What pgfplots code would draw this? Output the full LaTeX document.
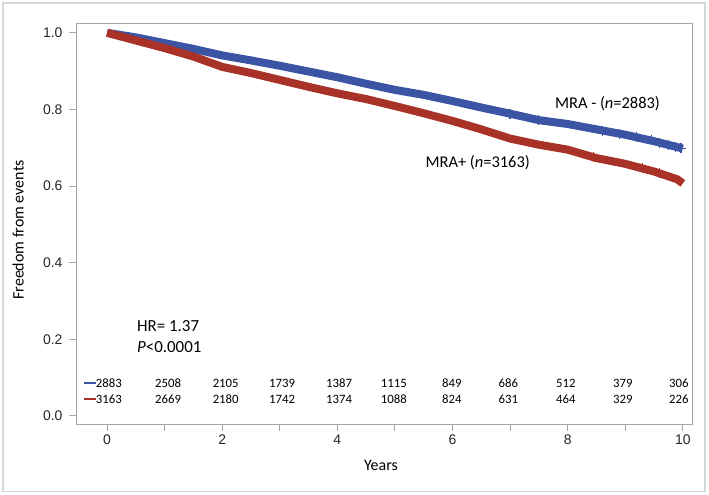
\documentclass[border=0pt]{standalone}
\usepackage{fontspec}
\setmainfont{Carlito}
\newfontfamily\arialf{Liberation Sans}
\usepackage{pgfplots}
\usepackage{pgfplotstable}
\pgfplotsset{compat=1.18}
\definecolor{kmblue}{RGB}{59,84,163}
\definecolor{kmred}{RGB}{168,50,40}
\definecolor{axgray}{RGB}{165,165,165}
\definecolor{framegray}{RGB}{215,215,215}

\pgfplotstableread{
t s
0 1.000
0.5 0.988
1 0.973
1.5 0.958
2 0.941
2.5 0.928
3 0.914
3.5 0.899
4 0.884
4.5 0.867
5 0.851
5.5 0.838
6 0.822
6.5 0.805
7 0.789
7.5 0.772
8 0.762
8.5 0.748
9 0.734
9.5 0.717
10 0.698
}\blue

\pgfplotstableread{
t s
0 1.000
0.5 0.980
1 0.960
1.5 0.938
2 0.911
2.5 0.895
3 0.877
3.5 0.859
4 0.842
4.5 0.827
5 0.809
5.5 0.790
6 0.770
6.5 0.748
7 0.724
7.5 0.708
8 0.695
8.5 0.673
9 0.658
9.5 0.638
9.9 0.618
10 0.607
}\red

\pgfplotstableread{
t n
0.03 2883
1.06 2508
2.06 2105
3.04 1739
4.03 1387
4.98 1115
5.99 849
6.97 686
7.97 512
8.96 379
9.93 306
}\riskblue

\pgfplotstableread{
t n
0.03 3163
1.06 2669
2.06 2180
3.04 1742
4.03 1374
4.98 1088
5.99 824
6.97 631
7.97 464
8.96 329
9.93 226
}\riskred

\begin{document}
\begin{tikzpicture}
\path[use as bounding box] (0,0) rectangle (709bp,495bp);
\draw[framegray, line width=1.5bp] (3bp,3.5bp) rectangle (705bp,492bp);
\begin{axis}[
  at={(76bp,71bp)}, anchor=south west, scale only axis,
  width=616bp, height=400bp,
  xmin=-0.54, xmax=10.16, ymin=-0.021, ymax=1.023,
  axis line style={axgray, line width=1bp},
  xtick={0,2,4,6,8,10}, minor xtick={1,3,5,7,9},
  ytick={0,0.2,0.4,0.6,0.8,1.0},
  tick align=outside, major tick length=7bp, minor tick length=7bp,
  tick style={axgray, line width=1bp},
  xtick pos=lower, ytick pos=left,
  yticklabel style={xshift=-3bp, /pgf/number format/.cd, fixed, fixed zerofill, precision=1},
  ticklabel style={font=\arialf\fontsize{14}{16}\selectfont, text=black!85},
  /pgf/number format/assume math mode=true,
  xlabel={Years}, ylabel={Freedom from events},
  label style={font=\fontsize{16}{18}\selectfont},
  xlabel style={at={(axis description cs:0.495,-0.1025)}, anchor=center},
  ylabel style={at={(axis description cs:-0.094,0.485)}, anchor=center},
  clip=false,
]
\addplot[kmblue, line width=8bp, line join=round, line cap=butt] table[x=t,y=s] {\blue};
\addplot[kmred, line width=8bp, line join=round, line cap=butt] table[x=t,y=s] {\red};
\addplot[kmblue, only marks, mark=+, mark size=5bp, line width=1.2bp] coordinates {
 (7.0,0.789) (7.5,0.772) (8.6,0.745) (8.9,0.737) (9.2,0.728) (9.45,0.719) (9.6,0.713) (9.75,0.708) (9.88,0.703) (9.97,0.699)};
\addplot[kmred, only marks, mark=+, mark size=5bp, line width=1.2bp] coordinates {
 (8.45,0.675) (9.3,0.647) (9.6,0.635)};

\addplot[draw=none, mark=none, nodes near coords, point meta=explicit symbolic,
  nodes near coords style={anchor=center, text=black, font=\fontsize{12.8}{14}\selectfont}]
  table[x=t, y expr=0.086, meta=n] {\riskblue};
\addplot[draw=none, mark=none, nodes near coords, point meta=explicit symbolic,
  nodes near coords style={anchor=center, text=black, font=\fontsize{12.8}{14}\selectfont}]
  table[x=t, y expr=0.044, meta=n] {\riskred};
\draw[kmblue, line width=1.6bp] (axis cs:-0.40,0.086) -- (axis cs:-0.20,0.086);
\draw[kmred, line width=1.6bp] (axis cs:-0.40,0.044) -- (axis cs:-0.20,0.044);

\node[anchor=west, font=\fontsize{16.5}{18}\selectfont] at (axis cs:7.72,0.815) {MRA - (\textit{n}=2883)};
\node[anchor=west, font=\fontsize{16.5}{18}\selectfont] at (axis cs:5.47,0.66) {MRA+ (\textit{n}=3163)};
\node[anchor=west, font=\fontsize{17}{19}\selectfont] at (axis cs:0.46,0.235) {HR= 1.37};
\node[anchor=west, font=\fontsize{17}{19}\selectfont] at (axis cs:0.46,0.180) {\textit{P}<0.0001};
\end{axis}
\end{tikzpicture}
\end{document}
